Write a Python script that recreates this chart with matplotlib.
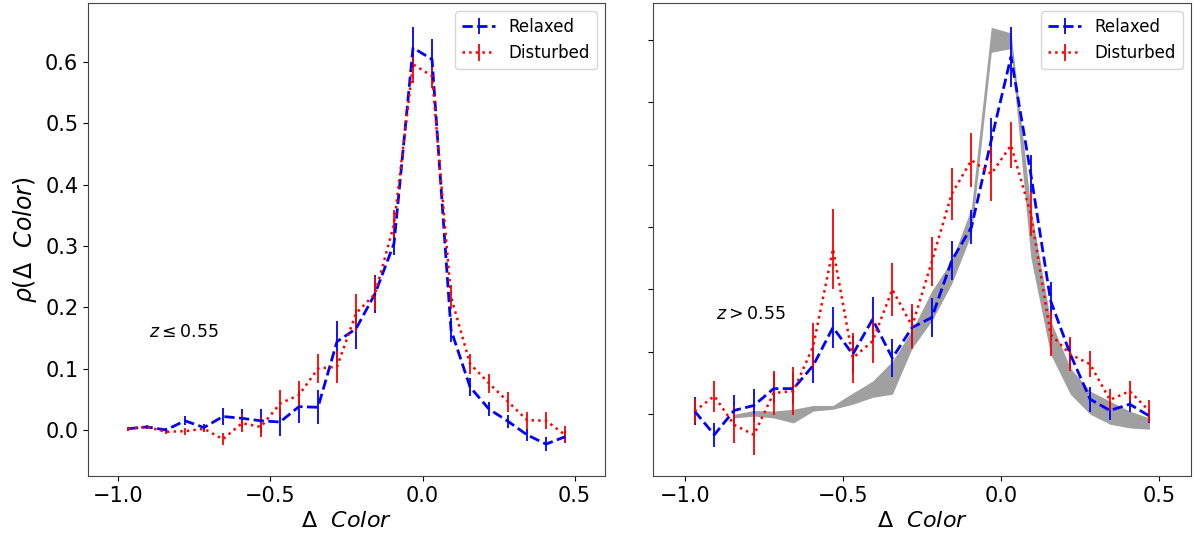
import numpy as np
import matplotlib.pyplot as plt

# bin centres of Delta Color (24 bins of width 1/16 between -1.0 and 0.5)
color_bins = [-0.96875, -0.90625, -0.84375, -0.78125, -0.71875, -0.65625,
              -0.59375, -0.53125, -0.46875, -0.40625, -0.34375, -0.28125,
              -0.21875, -0.15625, -0.09375, -0.03125, 0.03125, 0.09375,
              0.15625, 0.21875, 0.28125, 0.34375, 0.40625, 0.46875]

# z <= 0.55
relaxed_lo = [0.002, 0.005, 0.0, 0.015, 0.004, 0.022, 0.019, 0.015, 0.013, 0.038, 0.037, 0.144,
              0.165, 0.222, 0.304, 0.623, 0.604, 0.163, 0.070, 0.034, 0.014, -0.008, -0.023, -0.011]
relaxed_lo_err = [0.003, 0.003, 0.004, 0.007, 0.006, 0.014, 0.016, 0.020, 0.023, 0.026, 0.028, 0.034,
                  0.033, 0.031, 0.018, 0.034, 0.033, 0.020, 0.015, 0.011, 0.010, 0.010, 0.012, 0.010]
disturbed_lo = [0.002, 0.005, -0.003, -0.002, 0.002, -0.015, 0.011, 0.005, 0.043, 0.057, 0.100, 0.103,
                0.190, 0.222, 0.335, 0.596, 0.577, 0.217, 0.108, 0.076, 0.046, 0.016, 0.015, -0.008]
disturbed_lo_err = [0.003, 0.003, 0.004, 0.006, 0.006, 0.010, 0.015, 0.016, 0.022, 0.023, 0.024, 0.026,
                    0.031, 0.027, 0.024, 0.030, 0.020, 0.020, 0.016, 0.016, 0.016, 0.014, 0.014, 0.014]

# z > 0.55
relaxed_hi = [0.005, -0.033, 0.006, 0.014, 0.041, 0.041, 0.078, 0.139, 0.096, 0.152, 0.090, 0.139,
              0.155, 0.246, 0.300, 0.439, 0.573, 0.385, 0.182, 0.096, 0.024, 0.006, 0.016, -0.003]
relaxed_hi_err = [0.023, 0.019, 0.024, 0.027, 0.025, 0.025, 0.028, 0.033, 0.030, 0.036, 0.031, 0.030,
                  0.031, 0.031, 0.027, 0.036, 0.048, 0.030, 0.030, 0.024, 0.020, 0.015, 0.013, 0.011]
disturbed_hi = [0.005, 0.029, -0.017, -0.033, 0.034, 0.037, 0.109, 0.265, 0.090, 0.117, 0.200, 0.141,
                0.245, 0.353, 0.407, 0.385, 0.431, 0.321, 0.128, 0.096, 0.080, 0.023, 0.037, 0.005]
disturbed_hi_err = [0.019, 0.025, 0.029, 0.033, 0.036, 0.039, 0.037, 0.064, 0.040, 0.035, 0.042, 0.036,
                    0.039, 0.042, 0.043, 0.043, 0.037, 0.035, 0.035, 0.027, 0.021, 0.017, 0.016, 0.017]

# grey reference band (z > 0.55), bins 3..24
band_x = color_bins[2:]
band_top = [0.000, 0.006, 0.005, 0.008, 0.014, 0.014, 0.034, 0.053, 0.085, 0.135, 0.198, 0.246,
            0.331, 0.620, 0.611, 0.331, 0.150, 0.074, 0.037, 0.021, 0.005, -0.006]
band_bot = [-0.006, -0.003, -0.006, -0.014, 0.005, 0.008, 0.016, 0.027, 0.032, 0.106, 0.150, 0.209,
            0.289, 0.580, 0.586, 0.251, 0.096, 0.032, 0.000, -0.016, -0.022, -0.024]


def draw_panel(ax, rel, rel_err, dis, dis_err, zlabel):
    ax.errorbar(color_bins, rel, yerr=rel_err, color='blue', ls='--', lw=2, elinewidth=1.3,
                label='Relaxed')
    ax.errorbar(color_bins, dis, yerr=dis_err, color='red', ls=':', lw=1.8, elinewidth=1.3,
                label='Disturbed')
    ax.text(-0.9, 0.16, zlabel, fontsize=12.5, ha='left', va='center')
    ax.set_xlabel(r'$\Delta\ \ Color$', fontsize=16)
    ax.set_xticks([-1.0, -0.5, 0.0, 0.5])
    ax.set_yticks([0.0, 0.1, 0.2, 0.3, 0.4, 0.5, 0.6])
    ax.tick_params(labelsize=15)
    ax.set_xlim(-1.1, 0.6)
    ax.legend(loc='upper right', fontsize=12)
    for s in ax.spines.values():
        s.set_color('#444444')


fig = plt.figure(figsize=(11.94, 5.42), dpi=100)
ax1 = fig.add_axes([0.0737, 0.1218, 0.433, 0.8727])
ax2 = fig.add_axes([0.5469, 0.1218, 0.4506, 0.8727])

draw_panel(ax1, relaxed_lo, relaxed_lo_err, disturbed_lo, disturbed_lo_err, r'$z\leq0.55$')
ax1.set_ylim(-0.075, 0.696)
ax1.set_ylabel(r'$\rho(\Delta\ \ Color)$', fontsize=17)

ax2.fill_between(band_x, band_bot, band_top, color='gray', alpha=0.75, lw=0, zorder=0)
draw_panel(ax2, relaxed_hi, relaxed_hi_err, disturbed_hi, disturbed_hi_err, r'$z>0.55$')
ax2.set_ylim(-0.099, 0.659)
ax2.set_yticklabels([])

fig.savefig('out.png', dpi=100)
